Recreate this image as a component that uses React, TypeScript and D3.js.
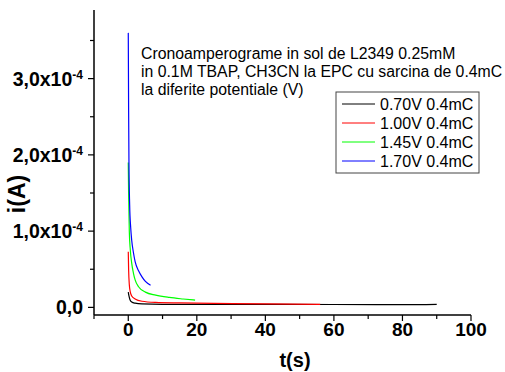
import { useRef, useEffect } from 'react';
import * as d3 from 'd3';

// time (s) and current (x1e-4 A)
const blackT = [0, 0.2, 0.5, 1, 2, 4, 10, 30, 60, 80, 90];
const blackI = [0.2, 0.15, 0.1, 0.07, 0.055, 0.045, 0.04, 0.04, 0.038, 0.035, 0.04];
const redT = [0, 0.1, 0.3, 0.6, 1, 2, 4, 8, 15, 25, 40, 56];
const redI = [0.73, 0.5, 0.3, 0.2, 0.15, 0.11, 0.08, 0.065, 0.058, 0.052, 0.046, 0.04];
const greenT = [0, 0.1, 0.3, 0.6, 1, 1.5, 2, 3, 5, 8, 12, 16, 19.5];
const greenI = [1.9, 1.5, 1.0, 0.75, 0.58, 0.45, 0.36, 0.27, 0.2, 0.16, 0.13, 0.11, 0.095];
const blueT = [0, 0.1, 0.2, 0.4, 0.7, 1, 1.5, 2, 3, 4, 5, 6.5];
const blueI = [3.6, 2.6, 1.9, 1.35, 1.05, 0.88, 0.72, 0.6, 0.48, 0.4, 0.34, 0.29];

const seriesNames = ['0.70V 0.4mC', '1.00V 0.4mC', '1.45V 0.4mC', '1.70V 0.4mC'];
const seriesColors = ['#000000', '#ff0000', '#00ff00', '#0000ff'];
const yTicks = [0, 1e-4, 2e-4, 3e-4];
const yTickLabels = ['0,0', '1,0x10', '2,0x10', '3,0x10'];
const xTicks = [0, 20, 40, 60, 80, 100];
const noteLines = [
  'Cronoamperograme in sol de L2349 0.25mM',
  'in 0.1M TBAP, CH3CN la EPC cu sarcina de 0.4mC',
  'la diferite potentiale (V)',
];

export default function App() {
  const svgRef = useRef<SVGSVGElement>(null);

  useEffect(() => {
    if (!svgRef.current) return;
    const svg = d3.select(svgRef.current);
    svg.selectAll('*').remove();

    const font = 'Arial, "Liberation Sans", sans-serif';
    const x = d3.scaleLinear().domain([-10, 100]).range([94, 471]);
    const y = d3.scaleLinear().domain([-0.1e-4, 3.9e-4]).range([315, 10]);

    const series = [
      { t: blackT, i: blackI },
      { t: redT, i: redI },
      { t: greenT, i: greenI },
      { t: blueT, i: blueI },
    ].map((s) => s.t.map((t, k) => [t, s.i[k] * 1e-4] as [number, number]));

    const line = d3
      .line<[number, number]>()
      .x((d) => x(d[0]))
      .y((d) => y(d[1]))
      .curve(d3.curveMonotoneX);

    // curves
    series.forEach((pts, k) => {
      svg.append('path')
        .attr('d', line(pts))
        .attr('fill', 'none')
        .attr('stroke', seriesColors[k])
        .attr('stroke-width', 1.2);
    });

    // x axis
    const xAxis = svg.append('g').attr('transform', 'translate(0,315)');
    xAxis.append('line').attr('x1', 94).attr('x2', 471).attr('stroke', '#000').attr('stroke-width', 1.5);
    d3.range(-10, 101, 10).forEach((v) => {
      const major = v % 20 === 0;
      xAxis.append('line')
        .attr('x1', x(v)).attr('x2', x(v))
        .attr('y1', 0).attr('y2', major ? 6 : 4)
        .attr('stroke', '#000').attr('stroke-width', 1.2);
    });
    xTicks.forEach((v) => {
      xAxis.append('text')
        .attr('x', x(v)).attr('y', 21)
        .attr('text-anchor', 'middle')
        .attr('font-family', font).attr('font-weight', 'bold').attr('font-size', 19)
        .text(v);
    });

    // y axis
    const yAxis = svg.append('g').attr('transform', 'translate(94,0)');
    yAxis.append('line').attr('y1', 10).attr('y2', 315).attr('stroke', '#000').attr('stroke-width', 1.5);
    d3.range(0, 8).forEach((k) => {
      const v = k * 0.5e-4;
      const major = k % 2 === 0;
      yAxis.append('line')
        .attr('x1', major ? -6 : -4).attr('x2', 0)
        .attr('y1', y(v)).attr('y2', y(v))
        .attr('stroke', '#000').attr('stroke-width', 1.2);
    });
    yTicks.forEach((v, k) => {
      const t = yAxis.append('text')
        .attr('x', -11).attr('y', y(v) + 7)
        .attr('text-anchor', 'end')
        .attr('font-family', font).attr('font-weight', 'bold').attr('font-size', 19.5);
      t.append('tspan').text(yTickLabels[k]);
      if (v !== 0) {
        t.append('tspan').attr('dy', -7).attr('font-size', 12).text('-4');
      }
    });

    // axis titles
    svg.append('text')
      .attr('x', 295).attr('y', 367)
      .attr('text-anchor', 'middle')
      .attr('font-family', font).attr('font-weight', 'bold').attr('font-size', 20)
      .text('t(s)');
    svg.append('text')
      .attr('transform', 'translate(25,194) rotate(-90)')
      .attr('text-anchor', 'middle')
      .attr('font-family', font).attr('font-weight', 'bold').attr('font-size', 23)
      .text('i(A)');

    // note
    noteLines.forEach((s, k) => {
      svg.append('text')
        .attr('x', 141).attr('y', 59 + k * 18)
        .attr('font-family', font).attr('font-size', 15.8)
        .text(s);
    });

    // legend
    const lg = svg.append('g');
    lg.append('rect')
      .attr('x', 336).attr('y', 92).attr('width', 143).attr('height', 81)
      .attr('fill', '#fff').attr('stroke', '#444').attr('stroke-width', 1);
    seriesNames.forEach((name, k) => {
      const ly = 104 + k * 19;
      lg.append('line')
        .attr('x1', 342).attr('x2', 375).attr('y1', ly).attr('y2', ly)
        .attr('stroke', seriesColors[k]).attr('stroke-width', 1);
      lg.append('text')
        .attr('x', 380).attr('y', ly + 5.5)
        .attr('font-family', font).attr('font-size', 16)
        .text(name);
    });
  }, []);

  return (
    <svg
      ref={svgRef}
      width={505}
      height={372}
      style={{ position: 'absolute', left: 0, top: 0, background: '#fff' }}
    />
  );
}
